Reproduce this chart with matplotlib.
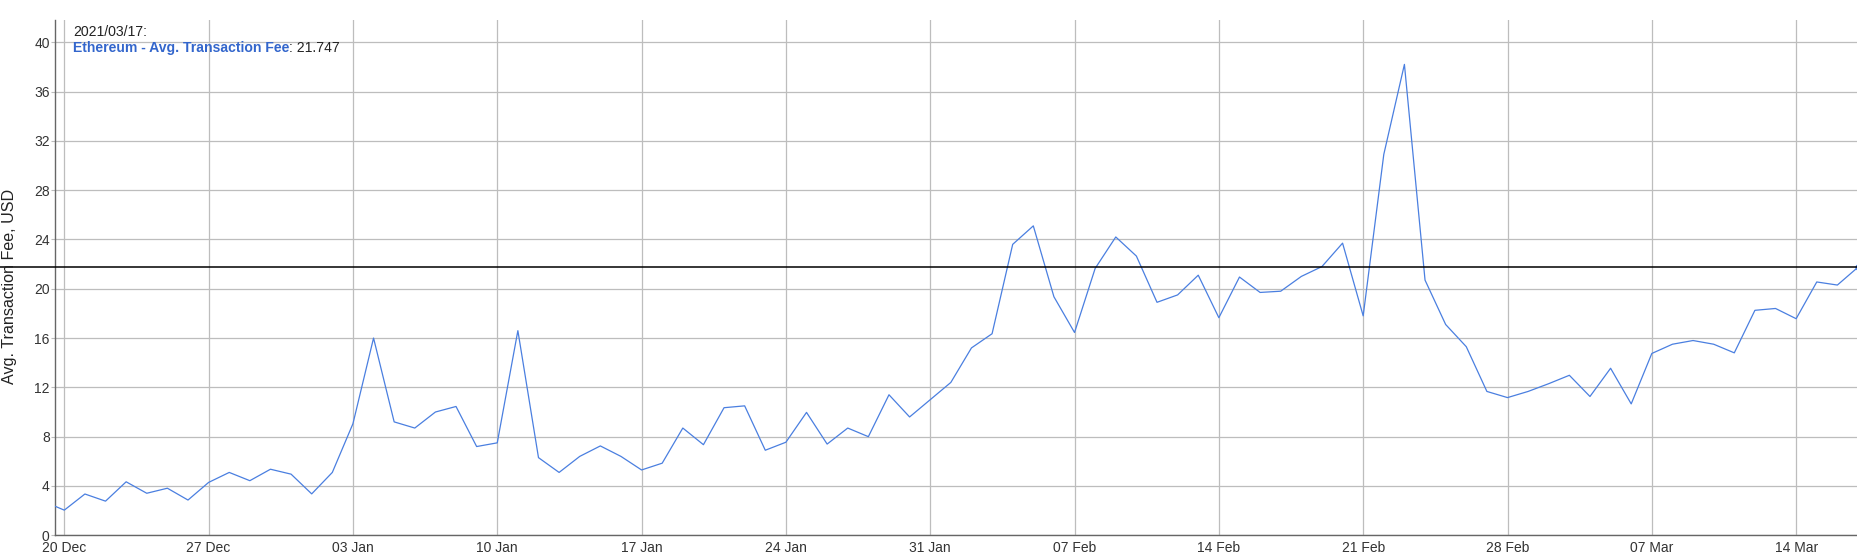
import matplotlib
matplotlib.use('Agg')
import matplotlib.pyplot as plt
import matplotlib.dates as mdates
import pandas as pd
import numpy as np

# Ethereum average transaction fee, USD, daily 19 Dec 2020 - 17 Mar 2021
start_date = '2020-12-19'
fee_usd = [
    2.75, 2.04, 3.35, 2.77, 4.34, 3.41, 3.82, 2.86, 4.29, 5.10,   # 19-28 Dec
    4.43, 5.36, 4.96, 3.36, 5.10, 9.05, 16.0, 9.20, 8.70, 10.0,   # 29 Dec - 07 Jan
    10.45, 7.20, 7.50, 16.6, 6.30, 5.10, 6.40, 7.25, 6.40, 5.30,  # 08-17 Jan
    5.85, 8.70, 7.35, 10.35, 10.5, 6.90, 7.55, 9.97, 7.40, 8.70,  # 18-27 Jan
    8.00, 11.4, 9.60, 11.0, 12.4, 15.2, 16.35, 23.6, 25.1, 19.35, # 28 Jan - 06 Feb
    16.45, 21.65, 24.2, 22.65, 18.9, 19.5, 21.1, 17.65, 20.95, 19.7,  # 07-16 Feb
    19.8, 21.0, 21.8, 23.7, 17.8, 30.9, 38.2, 20.7, 17.1, 15.3,   # 17-26 Feb
    11.67, 11.17, 11.67, 12.3, 12.98, 11.26, 13.55, 10.66, 14.75, 15.5,  # 27 Feb - 08 Mar
    15.8, 15.5, 14.8, 18.25, 18.4, 17.57, 20.55, 20.3, 21.747,    # 09-17 Mar
]
dates = pd.date_range(start_date, periods=len(fee_usd), freq='D')
y_ticks = list(range(0, 41, 4))
tooltip_date = '2021/03/17:'
series_name = 'Ethereum - Avg. Transaction Fee'
current_value = 21.747

plt.rcParams['font.family'] = ['Liberation Sans', 'DejaVu Sans']

W, H = 1858, 558
fig = plt.figure(figsize=(W / 100, H / 100), dpi=100)
ax = fig.add_axes([55.3 / W, 22.7 / H, (W - 55.3) / W, (535.3 - 20) / H])

grid_c = '#bdbdbd'
ax.plot(dates, fee_usd, color='#4a7fe0', lw=0.9, zorder=3)
ax.plot(dates[-1:], fee_usd[-1:], 'o', color='#4a7fe0', ms=3.5, zorder=4, clip_on=False)

# current value line, reaches the left edge of the figure
ax.axhline(current_value, xmin=-55.3 / (W - 55.3), xmax=1, color='black', lw=1.1,
           zorder=5, clip_on=False)

x0 = mdates.date2num(pd.Timestamp('2020-12-20')) - 0.436
x1 = mdates.date2num(dates[-1])
ax.set_xlim(x0, x1)
ax.set_ylim(0, 41.8)

ax.xaxis.set_major_locator(mdates.WeekdayLocator(byweekday=mdates.SU))
ax.xaxis.set_major_formatter(mdates.DateFormatter('%d %b'))
ax.set_yticks(y_ticks)

ax.grid(True, color=grid_c, lw=0.9)
ax.set_axisbelow(True)
for s in ['top', 'right']:
    ax.spines[s].set_visible(False)
for s in ['left', 'bottom']:
    ax.spines[s].set_color('#666666')
    ax.spines[s].set_linewidth(1.0)

ax.tick_params(axis='y', length=3, color=grid_c, pad=1, labelsize=10, labelcolor='#333333')
ax.tick_params(axis='x', length=0, pad=4, labelsize=10, labelcolor='#333333')

fig.text(10 / W, 1 - 286 / H, 'Avg. Transaction Fee, USD', rotation=90, ha='center',
         va='center', fontsize=11.6, color='#222222')

t1 = fig.text(73 / W, 1 - 32 / H, tooltip_date, ha='left', va='center',
              fontsize=10.1, color='#222222')
t2 = fig.text(73 / W, 1 - 48 / H, series_name, ha='left', va='center',
              fontsize=10.1, color='#3366cc', fontweight='bold')
ax.annotate(': %.3f' % current_value, xy=(1, 0), xycoords=t2, ha='left', va='bottom',
            fontsize=10.1, color='#222222')

fig.savefig('out.png', dpi=100)
